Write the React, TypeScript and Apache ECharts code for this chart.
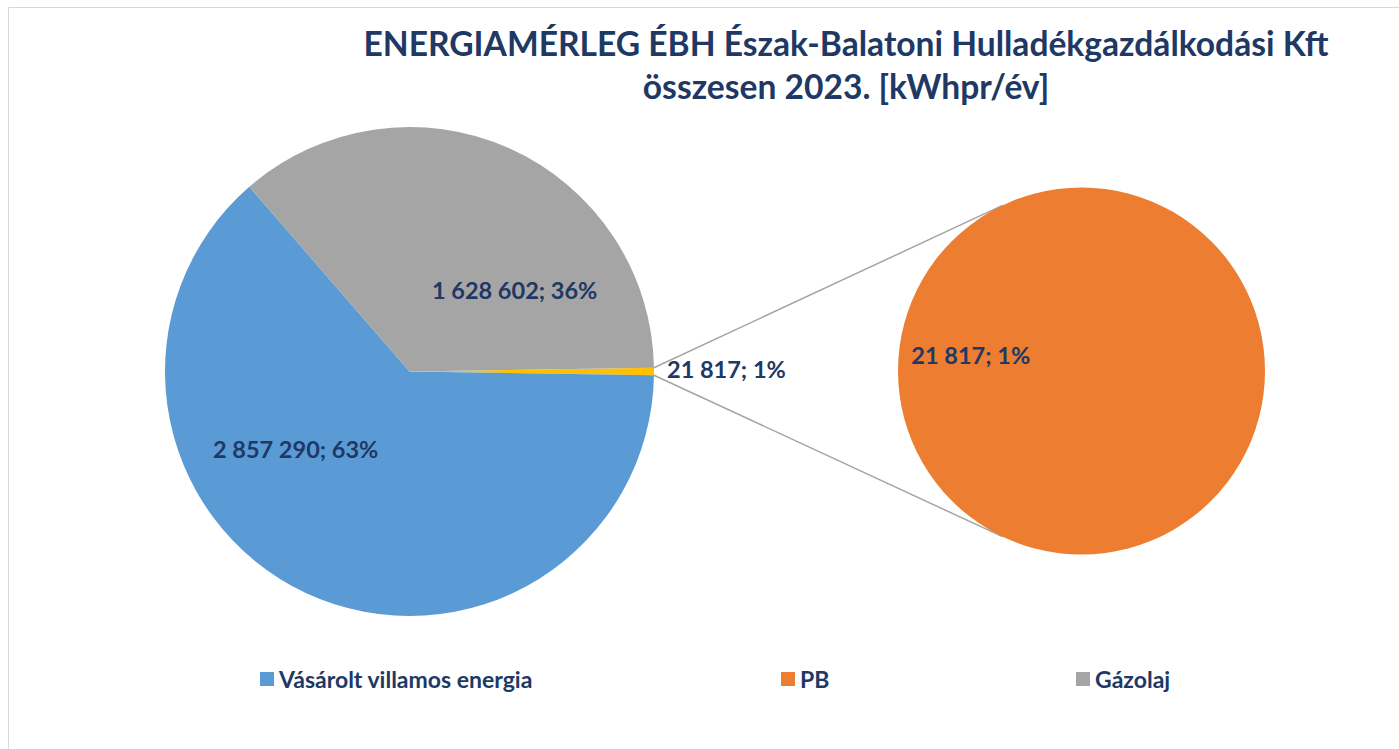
import React, { useEffect, useRef } from 'react';
import * as echarts from 'echarts';

// ---- data ----
const TITLE_LINES = ['ENERGIAMÉRLEG ÉBH Észak-Balatoni Hulladékgazdálkodási Kft', 'összesen 2023. [kWhpr/év]'];
const MAIN_NAMES = ['Vásárolt villamos energia', 'Gázolaj'];
const MAIN_VALUES = [2857290, 1628602];
const MAIN_PCT = [63, 36];
const SUB_NAMES = ['PB'];
const SUB_VALUES = [21817];
const SUB_PCT = [1];
const OTHER_NAME = 'Egyéb';
const LEGEND_ORDER = ['Vásárolt villamos energia', 'PB', 'Gázolaj'];

// ---- styles ----
const COLORS: Record<string, string> = {
  'Vásárolt villamos energia': '#5B9BD5',
  'Gázolaj': '#A5A5A5',
  'PB': '#ED7D31',
  'Egyéb': '#FFC000',
};
const TEXT_COLOR = '#203864';
const FONT = 'Lato, "Open Sans", sans-serif';
const MAIN_CENTER = [409.5, 371.5];
const MAIN_R = 244.5;
const SUB_CENTER = [1081.5, 371];
const SUB_R = 183.5;
const CONNECT_ANGLE = 115.5;
const MAIN_LABEL_OFFSETS: Record<string, [number, number]> = {
  'Egyéb': [8, -3],
  'Vásárolt villamos energia': [-61, -36],
  'Gázolaj': [54, 33],
};
const SUB_LABEL_OFFSETS: [number, number][] = [[-16, -16]];
const LEGEND_LEFTS = [260, 781, 1076];

const fmt = (v: number) => String(v).replace(/\B(?=(\d{3})+(?!\d))/g, ' ');
const sum = (a: number[]) => a.reduce((s, x) => s + x, 0);

export default function App() {
  const ref = useRef<HTMLDivElement>(null);
  useEffect(() => {
    if (!ref.current) return;
    const chart = echarts.init(ref.current, undefined, { renderer: 'svg' });

    const otherValue = sum(SUB_VALUES);
    const otherPct = sum(SUB_PCT);
    const total = otherValue + sum(MAIN_VALUES);
    const halfOther = (otherValue / total) * 360 / 2;

    const mainData = [
      { name: OTHER_NAME, value: otherValue, pct: otherPct, itemStyle: { color: COLORS[OTHER_NAME] }, label: { position: 'outside' } },
      ...MAIN_NAMES.map((n, i) => ({ name: n, value: MAIN_VALUES[i], pct: MAIN_PCT[i], itemStyle: { color: COLORS[n] } })),
    ];
    const subData = SUB_NAMES.map((n, i) => ({ name: n, value: SUB_VALUES[i], pct: SUB_PCT[i], itemStyle: { color: COLORS[n] } }));

    const rad = (d: number) => (d * Math.PI) / 180;
    const pt = (c: number[], r: number, a: number) => [c[0] + r * Math.cos(rad(a)), c[1] - r * Math.sin(rad(a))];
    const up1 = pt(MAIN_CENTER, MAIN_R, halfOther);
    const lo1 = pt(MAIN_CENTER, MAIN_R, -halfOther);
    const up2 = pt(SUB_CENTER, SUB_R, CONNECT_ANGLE);
    const lo2 = pt(SUB_CENTER, SUB_R, -CONNECT_ANGLE);

    const labelStyle = {
      color: TEXT_COLOR,
      fontFamily: FONT,
      fontWeight: 'bold' as const,
      fontSize: 23.5,
      textBorderWidth: 0,
      formatter: (p: any) => `${fmt(p.value)}; ${p.data.pct}%`,
    };

    const legendText = { color: TEXT_COLOR, fontFamily: FONT, fontWeight: 'bold' as const, fontSize: 23, lineHeight: 24 };

    chart.setOption({
      animation: false,
      backgroundColor: '#ffffff',
      title: {
        text: TITLE_LINES.join('\n'),
        left: 846,
        top: 21,
        padding: 0,
        textAlign: 'center',
        textStyle: { color: TEXT_COLOR, fontFamily: FONT, fontWeight: 'bold', fontSize: 33.6, lineHeight: 43 },
      },
      legend: LEGEND_ORDER.map((n, i) => ({
        data: [n],
        left: LEGEND_LEFTS[i],
        top: 667,
        padding: 0,
        icon: 'rect',
        itemWidth: 14,
        itemHeight: 14,
        selectedMode: false,
        textStyle: legendText,
      })),
      graphic: [
        { type: 'rect', silent: true, z: -10, shape: { x: 8.5, y: 7.5, width: 1400, height: 800 }, style: { fill: 'none', stroke: '#D9D9D9', lineWidth: 1 } },
        { type: 'line', silent: true, z: -1, shape: { x1: up1[0], y1: up1[1], x2: up2[0], y2: up2[1] }, style: { stroke: '#A5A5A5', lineWidth: 1.5 } },
        { type: 'line', silent: true, z: -1, shape: { x1: lo1[0], y1: lo1[1], x2: lo2[0], y2: lo2[1] }, style: { stroke: '#A5A5A5', lineWidth: 1.5 } },
      ],
      series: [
        {
          type: 'pie',
          center: MAIN_CENTER,
          radius: MAIN_R,
          startAngle: halfOther,
          clockwise: true,
          avoidLabelOverlap: false,
          silent: true,
          data: mainData,
          label: { show: true, position: 'inside', ...labelStyle },
          labelLine: { show: false, length: 0, length2: 0 },
          labelLayout: (p: any) => {
            const o = MAIN_LABEL_OFFSETS[mainData[p.dataIndex].name];
            return { dx: o[0], dy: o[1] };
          },
          itemStyle: { borderWidth: 0 },
          emphasis: { disabled: true },
        },
        {
          type: 'pie',
          center: SUB_CENTER,
          radius: SUB_R,
          startAngle: 0,
          clockwise: true,
          avoidLabelOverlap: false,
          silent: true,
          data: subData,
          label: { show: true, position: 'inside', ...labelStyle },
          labelLine: { show: false },
          labelLayout: (p: any) => {
            const o = SUB_LABEL_OFFSETS[p.dataIndex];
            return { dx: o[0], dy: o[1] };
          },
          itemStyle: { borderWidth: 0 },
          emphasis: { disabled: true },
        },
      ],
    });
    return () => chart.dispose();
  }, []);
  return <div ref={ref} style={{ position: 'fixed', left: 0, top: 0, width: 1399, height: 749 }} />;
}
